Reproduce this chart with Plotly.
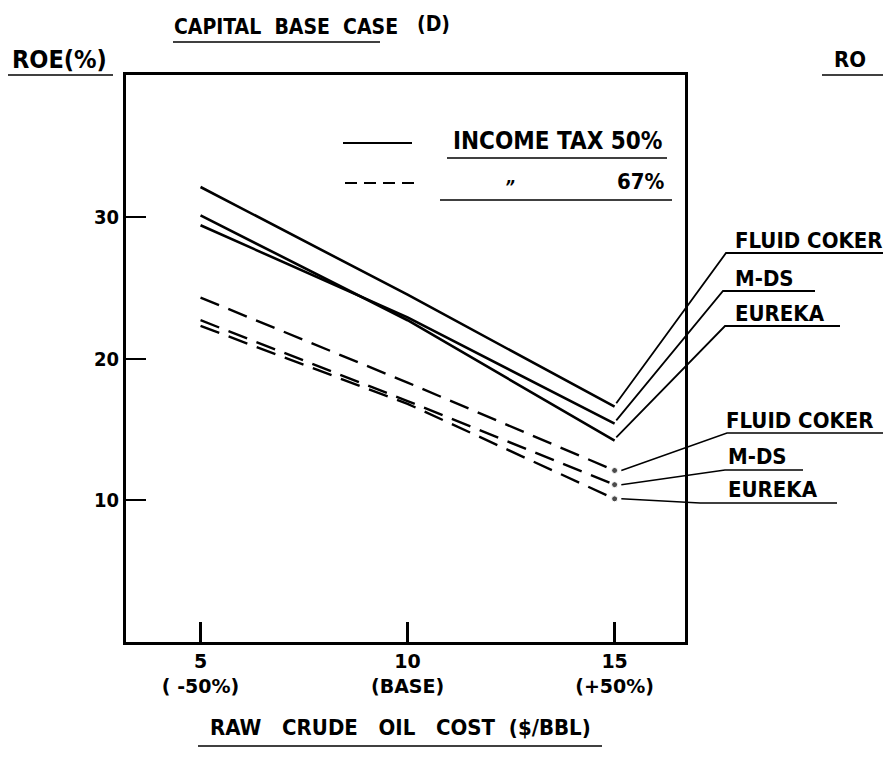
import plotly.graph_objects as go

# ---------------- data ----------------
crude_cost = [5, 10, 15]
tick_text = ["5<br>( -50%)", "10<br>(BASE)", "15<br>(+50%)"]
y_ticks = [10, 20, 30]

processes = ["FLUID COKER", "M-DS", "EUREKA"]
roe_tax50 = {
    "FLUID COKER": [32.1, 24.5, 16.6],
    "M-DS": [29.4, 22.9, 15.4],
    "EUREKA": [30.1, 22.7, 14.2],
}
roe_tax67 = {
    "FLUID COKER": [24.3, 18.3, 12.1],
    "M-DS": [22.7, 17.0, 11.1],
    "EUREKA": [22.3, 16.8, 10.1],
}

# ---------------- layout geometry (page pixels; page has an 8px body margin) ----------------
OFF = 8
W, H = 891, 758
L, R, T, B = 126, 685, 75, 642
XR = [3.2, 16.7]
YR = [0, 40]
FONT = "DejaVu Sans Condensed, DejaVu Sans, Liberation Sans, sans-serif"
FONT_W = "DejaVu Sans, Liberation Sans, sans-serif"


def px(x):
    return (x - L) / (R - L)


def py(y):
    return (B - y) / (B - T)


def dx(v):
    return (v - XR[0]) / (XR[1] - XR[0])


def dy(v):
    return (v - YR[0]) / (YR[1] - YR[0])


fig = go.Figure()

for name in processes:
    fig.add_trace(go.Scatter(
        x=crude_cost, y=roe_tax50[name], mode="lines", name=name + " 50%",
        line=dict(color="black", width=2.6), showlegend=False))
for name in processes:
    fig.add_trace(go.Scatter(
        x=crude_cost, y=roe_tax67[name], mode="lines+markers", name=name + " 67%",
        line=dict(color="black", width=2.4, dash="20px,10px"),
        marker=dict(size=[0, 0, 6], color="black"), showlegend=False))

shapes = []
annotations = []


def seg(points, width=1.8):
    path = "M " + " L ".join(f"{a},{b}" for a, b in points)
    shapes.append(dict(type="path", xref="paper", yref="paper", path=path,
                       line=dict(color="black", width=width)))


def text(s, x, y, size=21, anchor="left", family=FONT):
    annotations.append(dict(text=s, x=px(x), y=py(y), xref="paper", yref="paper",
                            showarrow=False, xanchor=anchor, yanchor="middle",
                            font=dict(family=family, size=size, color="black")))


# leader lines + labels (solid: 50%)
solid_leaders = {"FLUID COKER": (726, 253, 891, 240),
                 "M-DS": (723, 291, 815, 278),
                 "EUREKA": (725, 326, 840, 313)}
for name in processes:
    ex, ey, endx, ty = solid_leaders[name]
    v = roe_tax50[name][-1]
    seg([(dx(crude_cost[-1]) + 0.003, dy(v) + 0.006), (px(ex), py(ey)), (px(endx), py(ey))])
    text("<b>" + name + "</b>", 733, ty, size=22)

dashed_leaders = {"FLUID COKER": (727, 433, 891, 420, 724),
                  "M-DS": (725, 470, 803, 456, 726),
                  "EUREKA": (700, 503, 837, 489, 726)}
for name in processes:
    ex, ey, endx, ty, tx = dashed_leaders[name]
    v = roe_tax67[name][-1]
    seg([(dx(crude_cost[-1]) + 0.012, dy(v)), (px(ex), py(ey)), (px(endx), py(ey))], 1.5)
    text("<b>" + name + "</b>", tx, ty, size=22)

# in-plot legend
seg([(px(343), py(143)), (px(412), py(143))], 2.2)
shapes.append(dict(type="line", xref="paper", yref="paper", x0=px(345), x1=px(416),
                   y0=py(183), y1=py(183), line=dict(color="black", width=2.2, dash="12px,7px")))
text("<b>INCOME\u00a0TAX\u00a050%</b>", 451, 141, size=24)
seg([(px(447), py(158)), (px(667), py(158))], 1.5)
text("<i><b>\u201d</b></i>", 510, 187, size=17, anchor="center")
text("<b>67%</b>", 667, 181, size=22, anchor="right")
seg([(px(440), py(200)), (px(672), py(200))], 1.5)

# titles
text("<b>CAPITAL\u00a0\u00a0BASE\u00a0\u00a0CASE</b>", 286, 27, size=21, anchor="center")
seg([(px(173), py(42)), (px(380), py(42))], 1.5)
text("<b>(D)</b>", 433, 24, size=21, anchor="center")
text("<b>ROE(%)</b>", 10, 59, size=25)
seg([(px(6), py(75)), (px(113), py(75))], 1.5)
text("<b>RO</b>", 832, 59, size=22)
seg([(px(822), py(75)), (px(891), py(75))], 1.5)
text("<b>RAW\u00a0\u00a0\u00a0CRUDE\u00a0\u00a0\u00a0OIL\u00a0\u00a0\u00a0COST\u00a0\u00a0($/BBL)</b>", 400, 727, size=22, anchor="center")
seg([(px(198), py(746)), (px(602), py(746))], 1.5)

fig.update_layout(
    width=W - OFF, height=H - OFF,
    margin=dict(l=L - OFF, r=W - R, t=T - OFF, b=H - B, pad=0),
    paper_bgcolor="white", plot_bgcolor="white",
    shapes=shapes, annotations=annotations,
    font=dict(family=FONT, color="black"),
    showlegend=False,
)
fig.update_xaxes(
    range=XR, tickmode="array", tickvals=crude_cost,
    ticktext=["<b>" + t.replace("<br>", "</b><br><b>") + "</b>" for t in tick_text],
    ticks="inside", ticklen=20, tickwidth=3, tickcolor="black",
    showline=True, linewidth=3, linecolor="black", mirror=True,
    showgrid=False, zeroline=False, tickfont=dict(size=19, family=FONT_W))
fig.update_yaxes(
    range=YR, tickmode="array", tickvals=y_ticks, ticktext=["<b>%d</b>" % v for v in y_ticks],
    ticks="inside", ticklen=20, tickwidth=2, tickcolor="black",
    showline=True, linewidth=3, linecolor="black", mirror=True,
    showgrid=False, zeroline=False, tickfont=dict(size=20, family=FONT))

fig.write_html("out.html")
